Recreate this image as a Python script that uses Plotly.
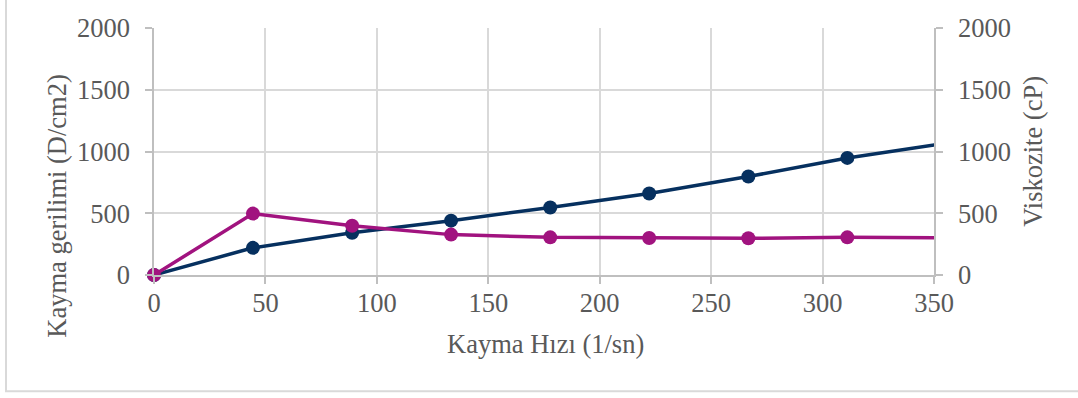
import plotly.graph_objects as go

# Shear rate (1/sn) and measured values
kayma_hizi = [0, 44.4, 88.9, 133.3, 177.8, 222.2, 266.7, 311.1, 355.6]
kayma_gerilimi = [0, 220, 342, 440, 547, 660, 797, 948, 1067]
viskozite = [0, 497, 399, 327, 305, 300, 297, 305, 300]

x_ticks = [0, 50, 100, 150, 200, 250, 300, 350]
y_ticks = [0, 500, 1000, 1500, 2000]
X_MAX = 350

W, H = 1078, 398
ML, MR, MT, MB = 154, 144, 28, 122.5
plot_w = W - ML - MR
plot_h = H - MT - MB

NAVY = "#06305F"
MAGENTA = "#A1137F"
TEXT = "#595959"
GRID = "#D9D9D9"
AXIS = "#BFBFBF"
FONT = "Liberation Serif"

axis_font = dict(family=FONT, size=26.5, color=TEXT)

fig = go.Figure()


def add_series(ys, color, axis):
    # line is clipped at the plot edge; markers drawn only for points in range
    fig.add_trace(go.Scatter(
        x=kayma_hizi, y=ys, mode="lines",
        line=dict(color=color, width=3.5), yaxis=axis, hoverinfo="skip"))
    xs_in = [x for x in kayma_hizi if x <= X_MAX]
    ys_in = [y for x, y in zip(kayma_hizi, ys) if x <= X_MAX]
    fig.add_trace(go.Scatter(
        x=xs_in, y=ys_in, mode="markers", cliponaxis=False,
        marker=dict(color=color, size=14), yaxis=axis))


add_series(kayma_gerilimi, NAVY, "y")
add_series(viskozite, MAGENTA, "y2")

common = dict(
    showline=True, linecolor=AXIS, linewidth=1.5,
    ticks="outside", ticklen=7, tickcolor=AXIS, tickwidth=1.5,
    tickfont=axis_font, zeroline=False,
)

fig.update_layout(
    width=W, height=H,
    margin=dict(l=ML, r=MR, t=MT, b=MB, pad=0),
    paper_bgcolor="white", plot_bgcolor="white",
    showlegend=False,
    font=axis_font,
    xaxis=dict(
        range=[0, X_MAX], tickvals=x_ticks, ticktext=[str(v) for v in x_ticks],
        showgrid=True, gridcolor=GRID, gridwidth=1.5,
        ticklabelstandoff=-4, **common,
    ),
    yaxis=dict(
        range=[0, 2000], tickvals=y_ticks, ticktext=[str(v) for v in y_ticks],
        showgrid=True, gridcolor=GRID, gridwidth=1.5,
        ticklabelstandoff=10, **common,
    ),
    yaxis2=dict(
        range=[0, 2000], tickvals=y_ticks, ticktext=[str(v) for v in y_ticks],
        overlaying="y", side="right", showgrid=False,
        ticklabelstandoff=10, **common,
    ),
)


def px_x(p):
    return (p - ML) / plot_w


def px_y(p):
    return (H - MB - p) / plot_h


# Axis titles
fig.add_annotation(text="Kayma Hızı (1/sn)", xref="paper", yref="paper",
                   x=px_x(545), y=px_y(345), showarrow=False,
                   xanchor="center", yanchor="middle", font=axis_font)
fig.add_annotation(text="Kayma gerilimi (D/cm2)", xref="paper", yref="paper",
                   x=px_x(57), y=px_y(207), showarrow=False, textangle=-90,
                   xanchor="center", yanchor="middle", font=axis_font)
fig.add_annotation(text="Viskozite (cP)", xref="paper", yref="paper",
                   x=px_x(1033), y=px_y(152), showarrow=False, textangle=-90,
                   xanchor="center", yanchor="middle", font=axis_font)

# Chart frame
fig.add_shape(type="rect", xref="paper", yref="paper",
              x0=px_x(6), x1=px_x(W + 10), y0=px_y(392), y1=px_y(-10),
              line=dict(color=GRID, width=2), layer="below")

fig.write_html("out.html")
